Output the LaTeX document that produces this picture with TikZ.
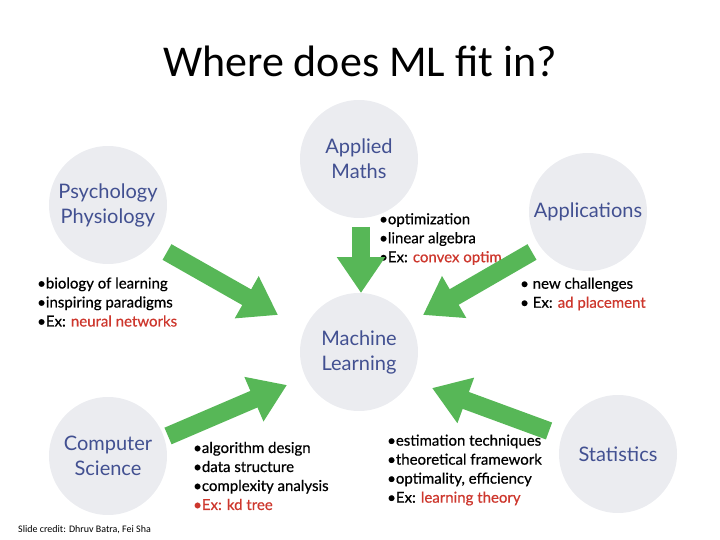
\documentclass[tikz,border=0pt]{standalone}
\usepackage{fontspec}
\setmainfont{Lato}
\newfontfamily\slidefont{Carlito}
\newfontfamily\listfont{Lato}[FakeBold=0.6]
\usepackage{tikz}
\usetikzlibrary{arrows.meta}
\definecolor{clrcircle}{RGB}{235,236,240}
\definecolor{clrlabel}{RGB}{66,80,145}
\definecolor{clrgreen}{RGB}{87,183,87}
\definecolor{clrred}{RGB}{205,55,45}

\begin{document}
\begin{tikzpicture}[
    x=1pt, y=-1pt,
    topic/.style={circle, fill=clrcircle, minimum size=118pt, inner sep=0pt,
                  align=center, text=clrlabel, font=\fontsize{20}{25}\selectfont},
    bullets/.style={anchor=west, align=left, inner sep=1pt,
                    font=\listfont\fontsize{15}{19}\selectfont},
    bigarr/.style={-{Triangle[length=36pt,width=46pt]}, line width=18pt, clrgreen},
  ]
    \useasboundingbox (0,0) rectangle (720,540);

    \node[font=\slidefont\fontsize{44}{52}\selectfont, anchor=base] (title) at (360,77) {Where does ML fit in?};

    % the six topics
    \node[topic] (maths) at (359,159) {Applied\\Maths};
    \node[topic] (psy)   at (108,205) {Psychology\\Physiology};
    \node[topic] (apps)  at (588,212) {Applications};
    \node[topic] (ml)    at (359,352) {Machine\\Learning};
    \node[topic] (cs)    at (108,456) {Computer\\Science};
    \node[topic] (stats) at (618,454) {Statistics};

    % what each one brings
    \node[bullets] (psyList)   at (36,302)  {\textbullet biology of learning\\\textbullet inspiring paradigms\\\textbullet Ex: \textcolor{clrred}{neural networks}};
    \node[bullets] (mathsList) at (378,239) {\textbullet optimization\\\textbullet linear algebra\\\textbullet Ex: \textcolor{clrred}{convex optim}};
    \node[bullets] (appsList)  at (519,294) {\textbullet\ new challenges\\\textbullet\ Ex: \textcolor{clrred}{ad placement}};
    \node[bullets] (csList)    at (192,476) {\textbullet algorithm design\\\textbullet data structure\\\textbullet complexity analysis\\\textcolor{clrred}{\textbullet Ex: kd tree}};
    \node[bullets] (statsList) at (386,470) {\textbullet estimation techniques\\\textbullet theoretical framework\\\textbullet optimality, efficiency\\\textbullet Ex: \textcolor{clrred}{learning theory}};

    \node[font=\slidefont\fontsize{10}{12}\selectfont, anchor=base west, inner sep=0pt] (credit) at (18,532) {Slide credit: Dhruv Batra, Fei Sha};

    % arrows into ML
    \coordinate (mathsTail) at (361,227);
    \coordinate (mathsTip)  at (361,293);
    \coordinate (psyTail)   at (167,252);
    \coordinate (psyTip)    at (278,315);
    \coordinate (appsTail)  at (532,252);
    \coordinate (appsTip)   at (423,315);
    \coordinate (csTail)    at (168,436);
    \coordinate (csTip)     at (287,385);
    \coordinate (statsTail) at (549,431);
    \coordinate (statsTip)  at (432,388);

    \draw[bigarr] (mathsTail) -- (mathsTip);
    \draw[bigarr] (psyTail)   -- (psyTip);
    \draw[bigarr] (appsTail)  -- (appsTip);
    \draw[bigarr] (csTail)    -- (csTip);
    \draw[bigarr] (statsTail) -- (statsTip);
  \end{tikzpicture}
\end{document}
